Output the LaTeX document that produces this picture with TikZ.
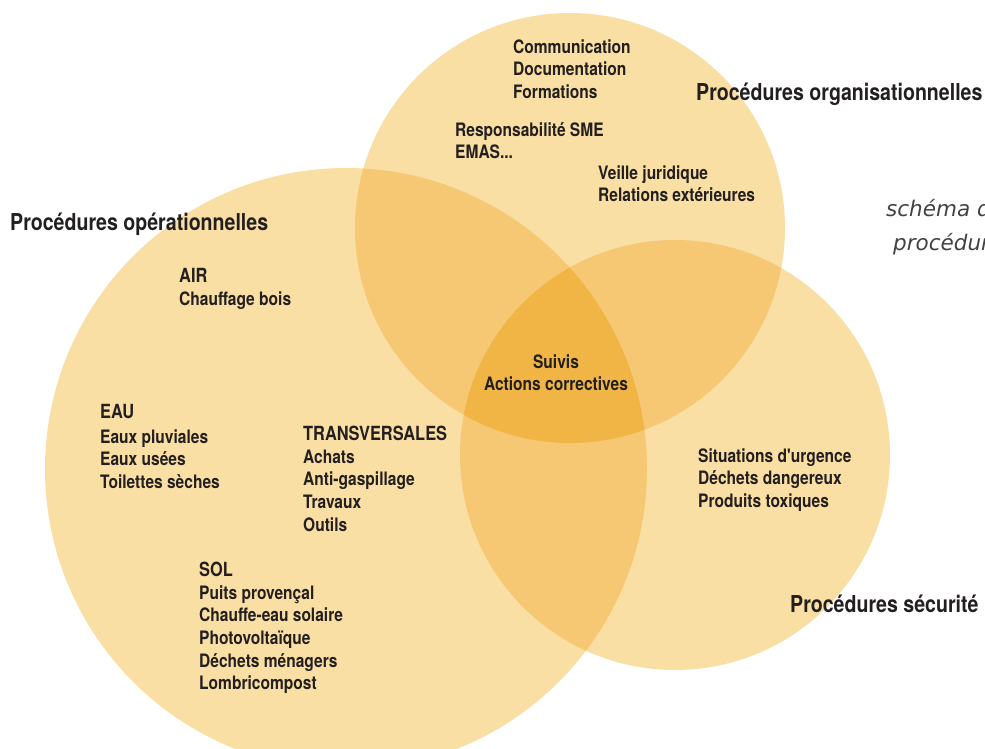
\documentclass[tikz,border=0pt]{standalone}
\usepackage{fontspec}
\setmainfont{TeX Gyre Heros}
\newfontfamily\condf{TeX Gyre Heros}[FakeStretch=0.84]
\newfontfamily\itf{DejaVu Sans}
\definecolor{cone}{HTML}{F9DFA4}
\definecolor{ctwo}{HTML}{F7C874}
\definecolor{cthree}{HTML}{F0B545}
\definecolor{txt}{HTML}{231F20}
\begin{document}
\begin{tikzpicture}[x=1pt,y=-1pt,
  item/.style={font=\condf\bfseries\fontsize{18.5}{22.7}\selectfont, text=txt, inner sep=0pt, align=left, anchor=base west},
  head/.style={font=\condf\bfseries\fontsize{19.5}{23}\selectfont, text=txt, inner sep=0pt, anchor=base west},
  title/.style={font=\condf\bfseries\fontsize{23.3}{27}\selectfont, text=txt, inner sep=0pt, anchor=base west},
  note/.style={font=\itf\itshape\fontsize{21.5}{34}\selectfont, text=txt!85, inner sep=0pt, align=left, anchor=base west}]
\useasboundingbox (0,0) rectangle (985,749);
\clip (0,0) rectangle (985,749);
% circles
\fill[cone] (570,228) circle[radius=215pt];
\fill[cone] (346,469) circle[radius=301pt];
\fill[cone] (675,455) circle[radius=215pt];
\begin{scope}
  \clip (570,228) circle[radius=215pt];
  \fill[ctwo] (346,469) circle[radius=301pt];
  \fill[ctwo] (675,455) circle[radius=215pt];
\end{scope}
\begin{scope}
  \clip (346,469) circle[radius=301pt];
  \fill[ctwo] (675,455) circle[radius=215pt];
\end{scope}
\begin{scope}
  \clip (570,228) circle[radius=215pt];
  \clip (346,469) circle[radius=301pt];
  \fill[cthree] (675,455) circle[radius=215pt];
\end{scope}
% titles (multi-line nodes: anchor base = baseline of last line)
\node[title] (torg) at (696,101) {Procédures organisationnelles};
\node[title] (tope) at (10,230) {Procédures opérationnelles};
\node[title] (tsec) at (790,612) {Procédures sécurité};
\node[note] (tnote) at (886,250) {schéma des\\\hspace*{7pt}procédures};
% organisational
\node[item] (comm) at (513,98.4) {Communication\\Documentation\\Formations};
\node[item] (resp) at (455,158.7) {Responsabilité SME\\EMAS...};
\node[item] (veil) at (598,201.7) {Veille juridique\\Relations extérieures};
% operational
\node[head] (air) at (179,282) {AIR};
\node[item] (airi) at (179,305) {Chauffage bois};
\node[head] (eau) at (100,418) {EAU};
\node[item] (eaui) at (100,488.4) {Eaux pluviales\\Eaux usées\\Toilettes sèches};
\node[head] (tra) at (303,440) {TRANSVERSALES};
\node[item] (trai) at (303,531.1) {Achats\\Anti-gaspillage\\Travaux\\Outils};
\node[head] (sol) at (199,576) {SOL};
\node[item] (soli) at (199,689.8) {Puits provençal\\Chauffe-eau solaire\\Photovoltaïque\\Déchets ménagers\\Lombricompost};
% centre
\node[item, align=center, anchor=base] (suiv) at (556,390.7) {Suivis\\Actions correctives};
% security
\node[item] (secu) at (698,507.4) {Situations d'urgence\\Déchets dangereux\\Produits toxiques};
\end{tikzpicture}
\end{document}
